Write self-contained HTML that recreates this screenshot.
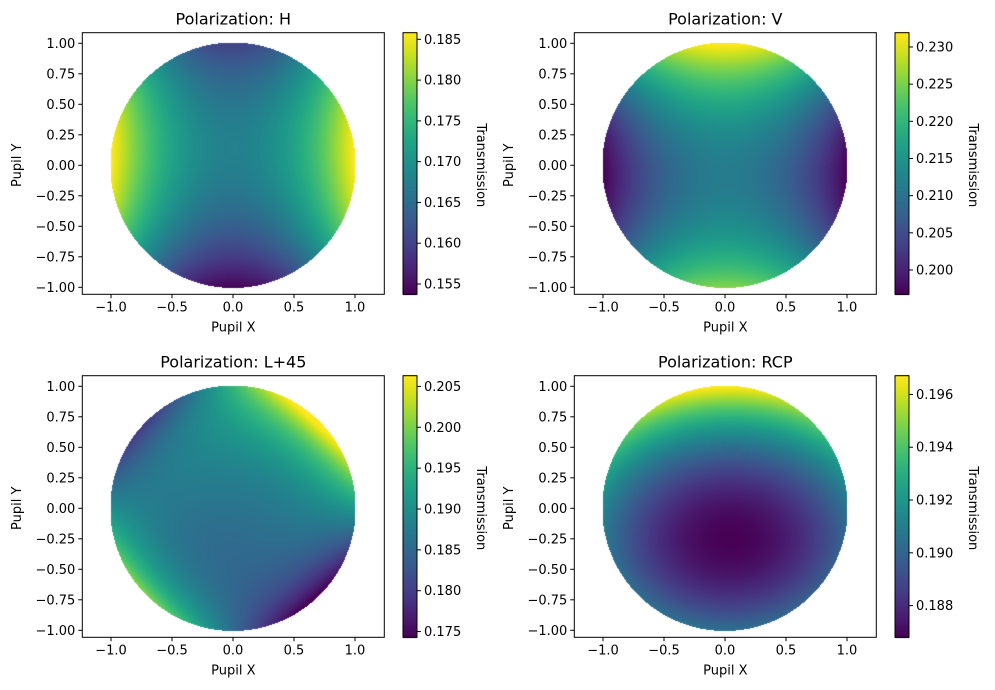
<!DOCTYPE html>
<html><head><meta charset="utf-8"><style>
body{margin:0;background:#fff;width:995px;height:690px;overflow:hidden;position:relative;font-family:"DejaVu Sans","Liberation Sans",sans-serif;}
canvas{position:absolute;left:0;top:0}
svg{position:absolute;left:0;top:0}
</style></head><body>
<canvas id="c" width="995" height="690"></canvas>
<svg id="s" width="995" height="690" xmlns="http://www.w3.org/2000/svg" font-family="DejaVu Sans, Liberation Sans, sans-serif" font-size="13" fill="#000"></svg>
<script>
const C0=[0.2777273272234177,0.005407344544966578,0.3340998053353061],C1=[0.1050930431085774,1.404613529898575,1.384590162594685],C2=[-0.3308618287255563,0.214847559468213,0.09509516302823659],C3=[-4.634230498983486,-5.799100973351585,-19.33244095627987],C4=[6.228269936347081,14.17993336680509,56.69055260068105],C5=[4.776384997670288,-13.74514537774601,-65.35303263337234],C6=[-5.435455855934631,4.645852612178535,26.3124352495832];
function vir(t){t=Math.max(0,Math.min(1,t));const r=[];for(let i=0;i<3;i++){r.push(Math.max(0,Math.min(255,255*(C0[i]+t*(C1[i]+t*(C2[i]+t*(C3[i]+t*(C4[i]+t*(C5[i]+t*C6[i])))))))));}return r;}
const panels=[
 {dx:0,dy:0,title:"Polarization: H",vmin:0.15374,vmax:0.18581,f:(x,y)=>0.1675+0.0185*x*x-0.0105*y*y+0.003*y,
  cb:["0.155","0.160","0.165","0.170","0.175","0.180","0.185"]},
 {dx:492,dy:0,title:"Polarization: V",vmin:0.19673,vmax:0.23192,f:(x,y)=>0.2115-0.0145*x*x+0.0175*y*y+0.0035*y,
  cb:["0.200","0.205","0.210","0.215","0.220","0.225","0.230"]},
 {dx:0,dy:343,title:"Polarization: L+45",vmin:0.1743,vmax:0.20631,f:(x,y)=>{const r2=x*x+y*y;return 0.1905+0.0135*2*x*y*r2+0.0007*x+0.005*y-0.004*(1-r2);},
  cb:["0.175","0.180","0.185","0.190","0.195","0.200","0.205"]},
 {dx:492,dy:343,title:"Polarization: RCP",vmin:0.1868,vmax:0.19671,f:(x,y)=>0.1868+0.0037*(x-0.05)*(x-0.05)+0.0064*(y+0.25)*(y+0.25),
  cb:["0.188","0.190","0.192","0.194","0.196"]}
];
const ctx=document.getElementById('c').getContext('2d');
const img=ctx.getImageData(0,0,995,690);const D=img.data;
const s=document.getElementById('s');let h='';
for(const p of panels){
 const L=82.3+p.dx,R=384.3+p.dx,T=32.7+p.dy,B=294.3+p.dy;
 const cx=233+p.dx,cy=165.3+p.dy,k=122;
 for(let py=Math.floor(T);py<B;py++)for(let px=Math.floor(L);px<R;px++){
  const x=(px+0.5-cx)/k,y=-(py+0.5-cy)/k;
  if(x*x+y*y<=1.012&&Math.abs(x)<=1.003&&Math.abs(y)<=1.003){
   const c=vir((p.f(x,y)-p.vmin)/(p.vmax-p.vmin));const i=(py*995+px)*4;D[i]=c[0];D[i+1]=c[1];D[i+2]=c[2];D[i+3]=255;}
 }
 const cL=403.3+p.dx,cR=416.7+p.dx;
 for(let py=Math.floor(T);py<B;py++){const t=(B-py-0.5)/(B-T);const c=vir(t);
  for(let px=Math.round(cL);px<Math.round(cR);px++){const i=(py*995+px)*4;D[i]=c[0];D[i+1]=c[1];D[i+2]=c[2];D[i+3]=255;}}
 h+=`<rect x="${L}" y="${T}" width="${R-L}" height="${B-T}" fill="none" stroke="#000" stroke-width="1"/>`;
 h+=`<rect x="${Math.round(cL)}" y="${T}" width="${Math.round(cR)-Math.round(cL)}" height="${B-T}" fill="none" stroke="#000" stroke-width="1"/>`;
 h+=`<text x="${(L+R)/2}" y="${T-8}" text-anchor="middle" font-size="16">${p.title}</text>`;
 const xt=["−1.0","−0.5","0.0","0.5","1.0"];
 xt.forEach((t,j)=>{const X=cx+(j-2)*0.5*k;h+=`<line x1="${X}" x2="${X}" y1="${B}" y2="${B+4}" stroke="#000"/><text x="${X}" y="${B+17}" text-anchor="middle">${t}</text>`;});
 const yt=["1.00","0.75","0.50","0.25","0.00","−0.25","−0.50","−0.75","−1.00"];
 yt.forEach((t,j)=>{const Y=cy-(1-j*0.25)*k;h+=`<line x1="${L-4}" x2="${L}" y1="${Y}" y2="${Y}" stroke="#000"/><text x="${L-7}" y="${Y+4.5}" text-anchor="end">${t}</text>`;});
 h+=`<text x="${(L+R)/2}" y="${B+37}" text-anchor="middle">Pupil X</text>`;
 h+=`<text transform="translate(${p.dx+21},${cy}) rotate(-90)" text-anchor="middle">Pupil Y</text>`;
 p.cb.forEach(t=>{const v=parseFloat(t);const Y=B-(v-p.vmin)/(p.vmax-p.vmin)*(B-T);h+=`<line x1="${Math.round(cR)}" x2="${Math.round(cR)+4}" y1="${Y}" y2="${Y}" stroke="#000"/><text x="${Math.round(cR)+7}" y="${Y+4.5}">${t}</text>`;});
 h+=`<text transform="translate(${p.dx+477},${cy}) rotate(90)" text-anchor="middle">Transmission</text>`;
}
ctx.putImageData(img,0,0);
s.innerHTML=h;
</script>
</body></html>
